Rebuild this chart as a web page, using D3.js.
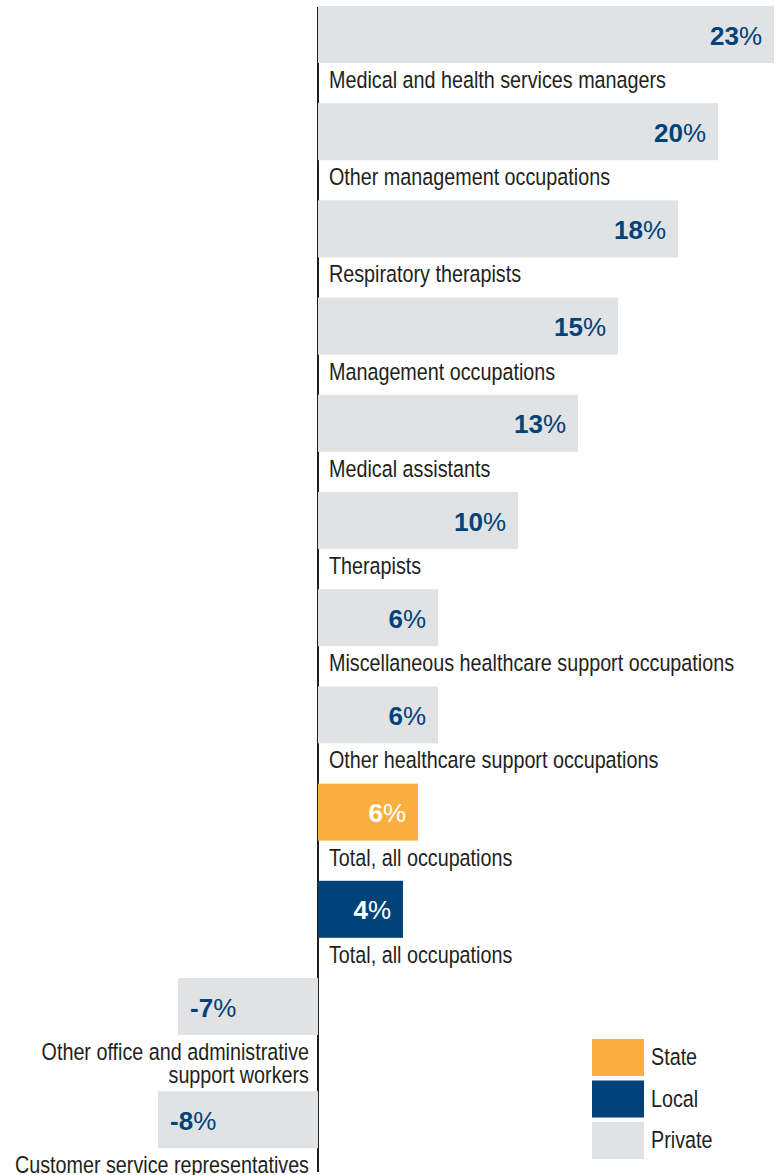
<!DOCTYPE html>
<html>
<head>
<meta charset="utf-8">
<script src="https://cdn.jsdelivr.net/npm/d3@7"></script>
<style>
  html, body { margin: 0; padding: 0; background: #ffffff; }
  svg { display: block; }
</style>
</head>
<body>
<div id="chart"></div>
<script>
const categories = [
  "Medical and health services managers",
  "Other management occupations",
  "Respiratory therapists",
  "Management occupations",
  "Medical assistants",
  "Therapists",
  "Miscellaneous healthcare support occupations",
  "Other healthcare support occupations",
  "Total, all occupations",
  "Total, all occupations",
  "Other office and administrative\nsupport workers",
  "Customer service representatives"
];
const sectors = ["Private", "Private", "Private", "Private", "Private", "Private",
                 "Private", "Private", "State", "Local", "Private", "Private"];
const values = [22.8, 20, 18, 15, 13, 10, 6, 6, 5, 4.25, -7, -8];
const valueLabels = ["23", "20", "18", "15", "13", "10", "6", "6", "6", "4", "-7", "-8"];
const legendKeys = ["State", "Local", "Private"];
const sectorColors = ["#FBAF41", "#00427A", "#E1E2E4"];

const W = 775, H = 1175;
const labelFont = "'Liberation Sans', Arial, sans-serif";
const condense = 0.806;
const valueFont = "'Liberation Sans', Arial, sans-serif";
const textColor = "#231F20";
const valueBlue = "#00427A";

const svg = d3.select("#chart").append("svg")
  .attr("width", W).attr("height", H);

const x = d3.scaleLinear().domain([-8, 23]).range([158, 778]);
const color = d3.scaleOrdinal().domain(legendKeys).range(sectorColors);

const barH = 57;
const step = 97.2;
const extraLine = 16;
const lineGap = 23.5;
const rows = categories.map((c, i) => ({ cat: c, lines: c.split("\n"), sector: sectors[i], value: values[i], label: valueLabels[i] }));
let acc = 6;
rows.forEach(r => {
  r.y = acc;
  acc += step + (r.lines.length - 1) * extraLine;
});

// axis line
const x0 = x(0);
svg.append("line")
  .attr("x1", x0).attr("x2", x0)
  .attr("y1", 7).attr("y2", 1172)
  .attr("stroke", textColor).attr("stroke-width", 2);

const g = svg.selectAll("g.row").data(rows).join("g").attr("class", "row");

g.append("rect")
  .attr("x", d => Math.min(x(0), x(d.value)))
  .attr("y", d => d.y)
  .attr("width", d => Math.abs(x(d.value) - x(0)))
  .attr("height", barH)
  .attr("fill", d => color(d.sector));

const vt = g.append("text")
  .attr("x", d => d.value >= 0 ? x(d.value) - 12 : x(d.value) + 12)
  .attr("y", d => d.y + barH / 2 + 10)
  .attr("text-anchor", d => d.value >= 0 ? "end" : "start")
  .attr("font-family", valueFont)
  .attr("font-size", 26)
  .attr("font-weight", "bold")
  .attr("fill", d => d.sector === "Private" ? valueBlue : "#ffffff");
vt.append("tspan").text(d => d.label);
vt.append("tspan").attr("font-weight", "normal").text("%");

const ct = g.append("text")
  .attr("transform", d => `translate(${d.value >= 0 ? x(0) + 11 : x(0) - 9},${d.y + barH + 25}) scale(${condense},1)`)
  .attr("text-anchor", d => d.value >= 0 ? "start" : "end")
  .attr("font-family", labelFont)
  .attr("font-size", 24.5)
  .attr("fill", textColor);
ct.selectAll("tspan").data(d => d.lines.map((l, k) => ({ l, k })))
  .join("tspan")
  .attr("x", 0)
  .attr("dy", d => d.k === 0 ? 0 : lineGap)
  .text(d => d.l);

// legend
const leg = svg.append("g").attr("transform", "translate(592,1039)");
const li = leg.selectAll("g").data(legendKeys).join("g")
  .attr("transform", (d, i) => `translate(0,${i * 41.5})`);
li.append("rect").attr("width", 52).attr("height", 37).attr("fill", d => color(d));
li.append("text")
  .attr("transform", `translate(59,26) scale(${condense},1)`)
  .attr("font-family", labelFont).attr("font-size", 24.5).attr("fill", textColor)
  .text(d => d);
</script>
</body>
</html>
